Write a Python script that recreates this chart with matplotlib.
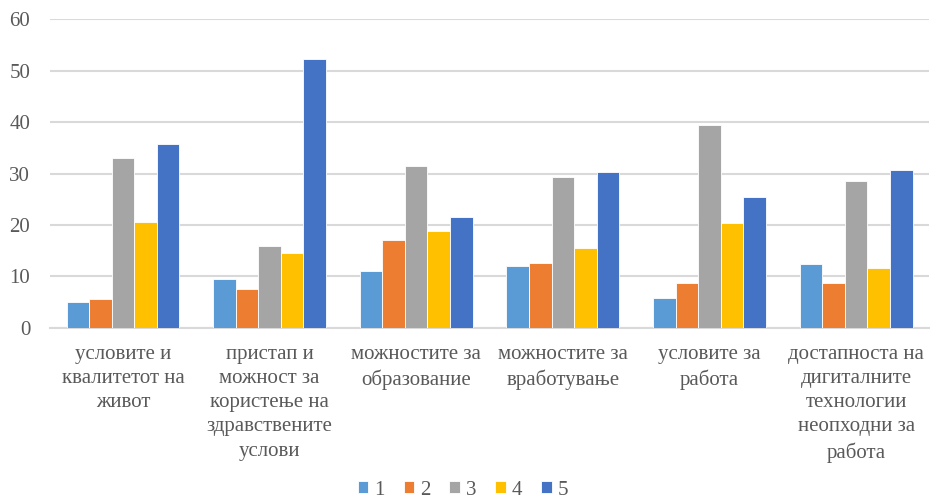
import matplotlib.pyplot as plt
import numpy as np

categories = [
    "условите и\nквалитетот на\nживот",
    "пристап и\nможност за\nкористење на\nздравствените\nуслови",
    "можностите за\nобразование",
    "можностите за\nвработување",
    "условите за\nработа",
    "достапноста на\nдигиталните\nтехнологии\nнеопходни за\nработа",
]

series_names = ["1", "2", "3", "4", "5"]
s1 = [5.1, 9.5, 11.0, 12.0, 5.9, 12.4]
s2 = [5.7, 7.6, 17.1, 12.6, 8.7, 8.7]
s3 = [33.0, 16.0, 31.5, 29.4, 39.5, 28.6]
s4 = [20.6, 14.6, 18.9, 15.6, 20.4, 11.7]
s5 = [35.7, 52.3, 21.5, 30.4, 25.5, 30.7]
series = [s1, s2, s3, s4, s5]

colors = ["#5B9BD5", "#ED7D31", "#A5A5A5", "#FFC000", "#4472C4"]

plt.rcParams["font.family"] = ["Liberation Serif", "DejaVu Serif"]

fig = plt.figure(figsize=(9.36, 4.99), dpi=100)
ax = fig.add_axes([0.053, 0.343, 0.94, 0.618])

x = np.arange(len(categories))
width = 1 / 6.5
for i, (vals, name) in enumerate(zip(series, series_names)):
    ax.bar(x + (i - 2) * width, vals, width, color=colors[i], label=name,
           edgecolor="white", linewidth=0.6, zorder=3)

ax.set_ylim(0, 60)
ax.set_xlim(-0.5, len(categories) - 0.5)
ax.set_yticks(range(0, 61, 10))
ax.yaxis.grid(True, color="#D9D9D9", linewidth=1.5, zorder=0)
ax.tick_params(axis="both", length=0, colors="#595959", labelsize=15)
ax.tick_params(axis="x", pad=12)
ax.tick_params(axis="y", pad=14)
ax.set_xticks(x)
ax.set_xticklabels(categories, linespacing=1.38)
for side in ["top", "right", "left"]:
    ax.spines[side].set_visible(False)
ax.spines["bottom"].set_color("#D9D9D9")
ax.spines["bottom"].set_linewidth(1.5)

leg = ax.legend(loc="lower center", bbox_to_anchor=(0.47, -0.605), ncol=5,
                frameon=False, fontsize=15, handlelength=0.5, handleheight=0.5,
                handletextpad=0.3, columnspacing=0.9, borderpad=0.2)
for t in leg.get_texts():
    t.set_color("#595959")

fig.savefig("out.png", dpi=100)
